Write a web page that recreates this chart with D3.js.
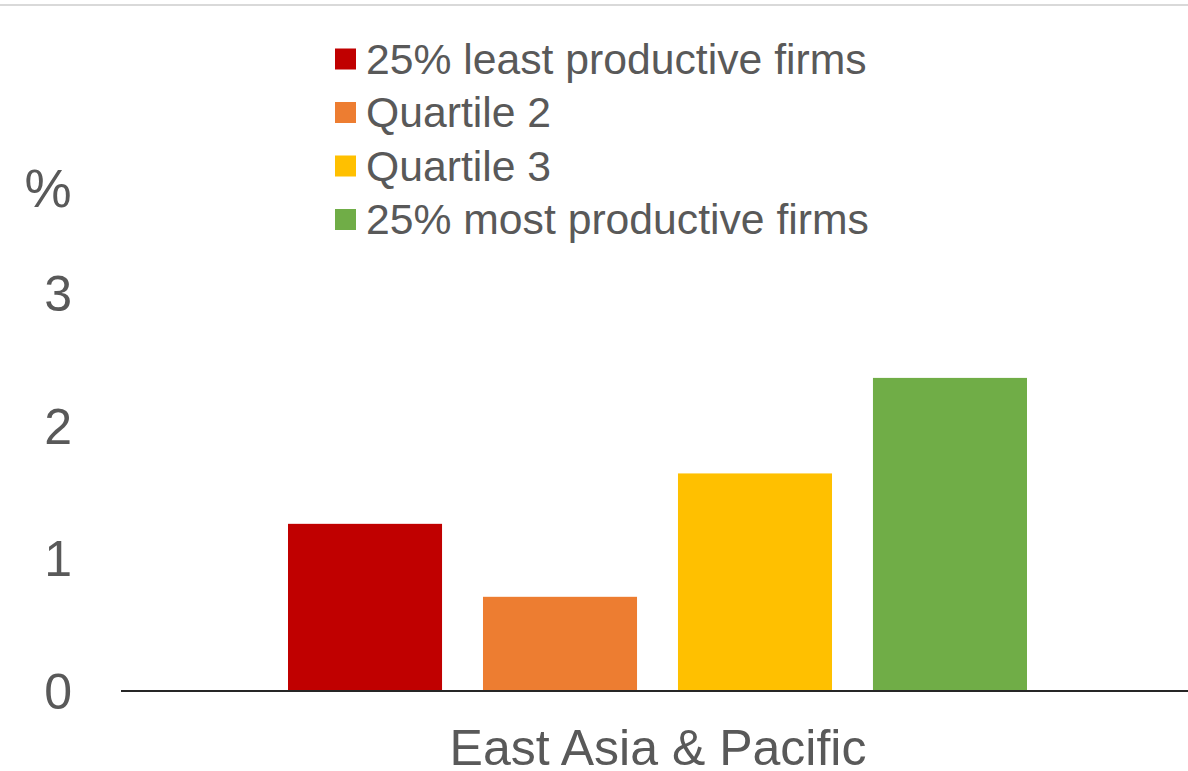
<!DOCTYPE html>
<html>
<head>
<meta charset="utf-8">
<script src="https://cdn.jsdelivr.net/npm/d3@7"></script>
<style>
  html, body { margin: 0; padding: 0; background: #ffffff; }
  svg { display: block; font-family: "Liberation Sans", Arial, sans-serif; }
</style>
</head>
<body>
<svg id="chart" width="1188" height="771"></svg>
<script>
// Share of firms by productivity quartile, East Asia & Pacific (%)
const categories = ["East Asia & Pacific"];
const seriesNames = [
  "25% least productive firms",
  "Quartile 2",
  "Quartile 3",
  "25% most productive firms"
];
const seriesValues = [1.26, 0.71, 1.64, 2.36];
const seriesColors = ["#c00000", "#ed7d31", "#ffc000", "#70ad47"];
const yTicks = [0, 1, 2, 3];
const yUnit = "%";

const svg = d3.select("#chart");
const W = 1188, H = 771;
const textColor = "#595959";

// thin rule across the top edge
svg.append("line")
  .attr("x1", 0).attr("x2", W)
  .attr("y1", 5).attr("y2", 5)
  .attr("stroke", "#d9d9d9").attr("stroke-width", 2);

// scales
const y = d3.scaleLinear().domain([0, 3]).range([691, 293]);
const xCat = d3.scaleBand().domain(categories).range([121, 1194]);
const xSer = d3.scaleBand().domain(seriesNames).range([288, 1027]).paddingInner(0.21);

// bars
svg.append("g").selectAll("rect")
  .data(seriesNames.map((s, i) => ({ name: s, value: seriesValues[i], color: seriesColors[i] })))
  .join("rect")
  .attr("x", d => xSer(d.name))
  .attr("width", xSer.bandwidth())
  .attr("y", d => y(d.value))
  .attr("height", d => y(0) - y(d.value))
  .attr("fill", d => d.color);

// y axis labels (no axis line or tick marks)
const yAxis = d3.axisLeft(y).tickValues(yTicks).tickSize(0).tickPadding(0).tickFormat(d3.format("d"));
const gy = svg.append("g").attr("transform", "translate(72,0)").call(yAxis);
gy.select(".domain").remove();
gy.selectAll("text")
  .attr("fill", textColor)
  .attr("font-size", 50)
  .attr("font-family", "Liberation Sans, Arial, sans-serif")
  .attr("dy", "0.35em");

// unit label
svg.append("text")
  .attr("x", 48).attr("y", 188)
  .attr("text-anchor", "middle")
  .attr("dy", "0.35em")
  .attr("fill", textColor)
  .attr("font-size", 53)
  .text(yUnit);

// x axis baseline and category label
const xAxis = d3.axisBottom(xCat).tickSize(0).tickPadding(0);
const gx = svg.append("g").attr("transform", `translate(0,${y(0)})`).call(xAxis);
gx.select(".domain")
  .attr("stroke", "#262626")
  .attr("stroke-width", 2)
  .attr("d", `M121,0H${W}`);
gx.selectAll("text")
  .attr("fill", textColor)
  .attr("font-size", 50)
  .attr("font-family", "Liberation Sans, Arial, sans-serif")
  .attr("x", 658 - (xCat(categories[0]) + xCat.bandwidth() / 2))
  .attr("y", 56)
  .attr("dy", "0.35em");

// legend
const legend = svg.append("g").attr("transform", "translate(335,59)");
const rowH = 53.5;
const items = legend.selectAll("g")
  .data(seriesNames.map((s, i) => ({ name: s, color: seriesColors[i] })))
  .join("g")
  .attr("transform", (d, i) => `translate(0,${i * rowH})`);
items.append("rect")
  .attr("x", 0).attr("y", -10.5)
  .attr("width", 21).attr("height", 21)
  .attr("fill", d => d.color);
items.append("text")
  .attr("x", 31).attr("y", 0)
  .attr("dy", "0.35em")
  .attr("fill", textColor)
  .attr("font-size", 42.7)
  .text(d => d.name);
</script>
</body>
</html>
